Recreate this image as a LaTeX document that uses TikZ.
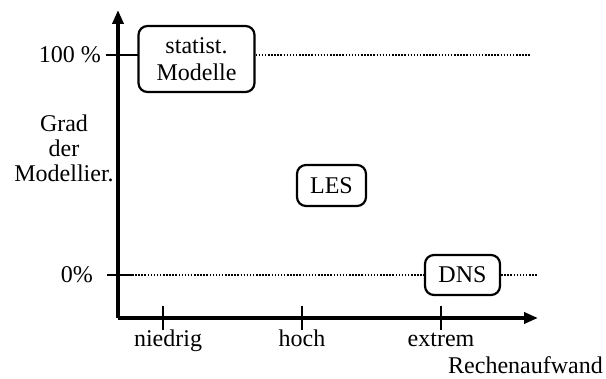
\documentclass[tikz,border=0pt]{standalone}
\usepackage{fontspec}
\setmainfont{Liberation Serif}
\usetikzlibrary{arrows.meta}
\begin{document}
\begin{tikzpicture}[x=1pt,y=-1pt,
  axis/.style={line width=3.6pt,-{Triangle[length=14pt,width=11pt]}},
  tick/.style={line width=2.2pt},
  guide/.style={line width=1.8pt,dash pattern=on 1.5pt off 1.6pt},
  box/.style={draw,line width=2.2pt,rounded corners=9pt,align=center,inner sep=0pt},
  lbl/.style={font=\fontsize{24}{25}\selectfont,align=center,inner sep=0pt}]
\useasboundingbox (0,0) rectangle (606,379);
\coordinate (O) at (118,318);
\coordinate (ytip) at (118,10);
\coordinate (xtip) at (538,318);
\draw[axis] (O) -- (ytip);
\draw[axis] (O) -- (xtip);
% boxes
\node[box,lbl,font=\fontsize{24}{27}\selectfont,minimum width=116pt,minimum height=66pt] (stat) at (196.5,59) {statist.\\Modelle};
\node[box,lbl,minimum width=69pt,minimum height=41pt] (les) at (331.5,185.5) {LES};
\node[box,lbl,minimum width=75pt,minimum height=40pt] (dns) at (462.5,275) {DNS};
% y ticks
\coordinate (t100a) at (106,55);
\coordinate (t100b) at (138,55);
\coordinate (t0a) at (107,275);
\coordinate (t0b) at (132,275);
\draw[tick] (t100a) -- (t100b);
\draw[tick] (t0a) -- (t0b);
% dotted guides
\coordinate (g100) at (530,55);
\coordinate (g0) at (538,275);
\draw[guide] (stat.east |- t100b) -- (g100);
\draw[guide] (t0b) -- (dns.west);
\draw[guide] (dns.east) -- (g0);
% x ticks
\foreach \n/\x in {a/163,b/302,c/441}{
  \coordinate (xt\n1) at (\x,306);
  \coordinate (xt\n2) at (\x,330);
  \draw[tick] (xt\n1) -- (xt\n2);
}
% labels
\node[lbl,anchor=base east] (l100) at (101,63) {100 \%};
\node[lbl,anchor=base east] (l0) at (93,283) {0\%};
\node[lbl,anchor=base] (grad1) at (64,132) {Grad};
\node[lbl,anchor=base] (grad2) at (64,157) {der};
\node[lbl,anchor=base] (grad3) at (64,182) {Modellier.};
\node[lbl,anchor=base] (nied) at (168,347) {niedrig};
\node[lbl,anchor=base] (hoch) at (302,347) {hoch};
\node[lbl,anchor=base] (ext) at (441,347) {extrem};
\node[lbl,anchor=base east] (rech) at (603,374) {Rechenaufwand};
\end{tikzpicture}
\end{document}
